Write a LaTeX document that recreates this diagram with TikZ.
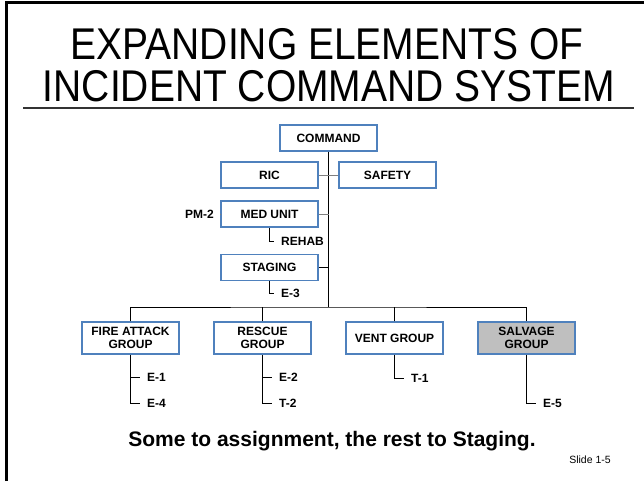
\documentclass[tikz,border=0pt]{standalone}
\usepackage{fontspec}
\setmainfont{Liberation Sans}
\definecolor{boxblue}{HTML}{4F81BD}
\definecolor{linegray}{HTML}{7F7F7F}
\definecolor{salvgray}{HTML}{BFBFBF}
\newcommand{\slidetitle}[1]{\scalebox{1}[1.14]{\fontsize{39}{42}\selectfont #1}}

\begin{document}
\begin{tikzpicture}[x=1pt,y=-1pt,
  unit/.style={draw=boxblue,line width=1.5pt,fill=white,minimum width=97pt,
    minimum height=26pt,inner sep=0pt,align=center,
    font=\fontsize{12}{13.5}\selectfont\bfseries},
  group/.style={unit,minimum height=32pt},
  tag/.style={inner xsep=7pt,inner ysep=0pt,font=\fontsize{12}{13.5}\selectfont\bfseries},
  link/.style={line width=1pt},
  glink/.style={line width=1pt,draw=linegray}]
   \useasboundingbox (0,0) rectangle (644,481);
   % slide frame and title
   \draw[line width=2.5pt] (6.5,481) -- (6.5,2.5) -- (644,2.5);
   \node[anchor=base] (title1) at (327,60) {\slidetitle{EXPANDING ELEMENTS OF}};
   \node[anchor=base] (title2) at (329,102) {\slidetitle{INCIDENT COMMAND SYSTEM}};
   \draw[line width=1.5pt,black!80] (23,108) -- (634,108);

   % command staff
   \node[unit] (command) at (328.5,138) {COMMAND};
   \node[unit] (ric)     at (269.5,175) {RIC};
   \node[unit] (safety)  at (387.5,175) {SAFETY};
   \node[unit] (med)     at (269.5,214) {MED UNIT};
   \node[unit] (staging) at (269.5,267.5) {STAGING};
   \coordinate (bar) at (328.5,307);

   % groups
   \node[group] (fire)    at (130.5,338) {FIRE ATTACK\\GROUP};
   \node[group] (rescue)  at (262.5,338) {RESCUE\\GROUP};
   \node[group] (vent)    at (394.5,338) {VENT GROUP};
   \node[group,fill=salvgray] (salvage) at (526.5,338) {SALVAGE\\GROUP};

   % resources
   \node[tag,anchor=east] (pm2) at (221,214) {PM-2};
   \node[tag,anchor=west] (rehab) at (274,241) {REHAB};
   \node[tag,anchor=west] (e3) at (274,293) {E-3};
   \node[tag,anchor=west] (e1) at (140,377) {E-1};
   \node[tag,anchor=west] (e4) at (140,403) {E-4};
   \node[tag,anchor=west] (e2) at (272,377) {E-2};
   \node[tag,anchor=west] (t2) at (272,403) {T-2};
   \node[tag,anchor=west] (t1) at (404,378) {T-1};
   \node[tag,anchor=west] (e5) at (536,403) {E-5};

   % lines
   \draw[link] (command.south) -- (bar);
   \draw[glink] (ric) -- (safety);
   \draw[glink] (med.east) -- (med.east -| bar);
   \draw[link] (staging.east) -- (staging.east -| bar);
   \draw[glink] (pm2) -- (med);
   \draw[link] (med.south) |- (rehab.west);
   \draw[link] (staging.south) |- (e3.west);
   \draw[link] (fire.north) |- (bar) -| (salvage.north);
   \draw[link] (rescue.north) -- (rescue.north |- bar);
   \draw[link] (vent.north) -- (vent.north |- bar);
   \draw[link] (fire.south) |- (e4.west);
   \draw[link] (fire.south |- e1.west) -- (e1.west);
   \draw[link] (rescue.south) |- (t2.west);
   \draw[link] (rescue.south |- e2.west) -- (e2.west);
   \draw[link] (vent.south) |- (t1.west);
   \draw[link] (salvage.south) |- (e5.west);

   % footer
   \node[anchor=base] (note) at (332,446) {\fontsize{21}{24}\selectfont\bfseries Some to assignment, the rest to Staging.};
   \node (slideno) at (590,460) {\fontsize{10.5}{12}\selectfont Slide 1-5};
\end{tikzpicture}
\end{document}
